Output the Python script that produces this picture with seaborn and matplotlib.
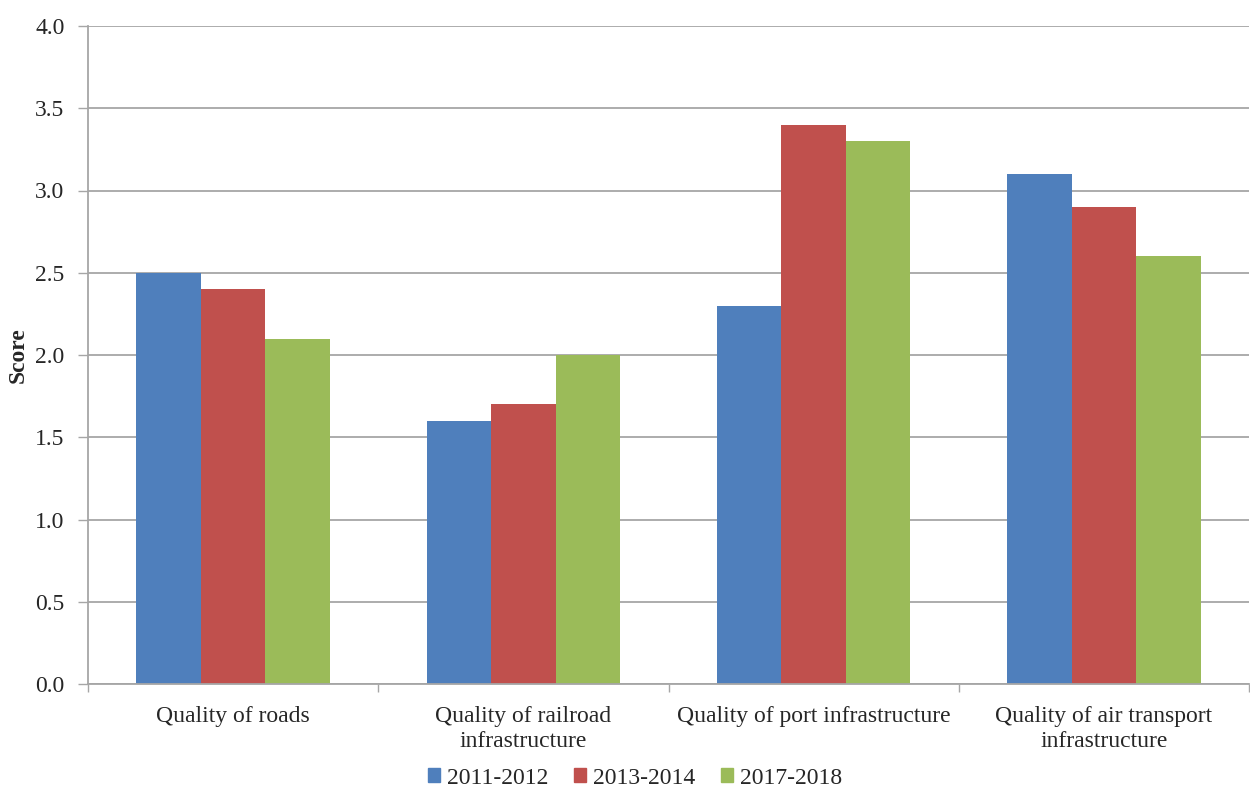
import matplotlib
matplotlib.use("Agg")
import matplotlib.pyplot as plt
import seaborn as sns
import pandas as pd
from matplotlib.ticker import FixedLocator

# Infrastructure quality scores by period
categories = ["Quality of roads", "Quality of railroad\ninfrastructure",
              "Quality of port infrastructure", "Quality of air transport\ninfrastructure"]
periods = ["2011-2012", "2013-2014", "2017-2018"]
scores_2011_2012 = [2.5, 1.6, 2.3, 3.1]
scores_2013_2014 = [2.4, 1.7, 3.4, 2.9]
scores_2017_2018 = [2.1, 2.0, 3.3, 2.6]
y_ticks = [0.0, 0.5, 1.0, 1.5, 2.0, 2.5, 3.0, 3.5, 4.0]
colors = ["#4F7FBC", "#C0504D", "#9BBB59"]

rows = []
for period, vals in zip(periods, [scores_2011_2012, scores_2013_2014, scores_2017_2018]):
    for cat, v in zip(categories, vals):
        rows.append({"category": cat, "period": period, "score": v})
df = pd.DataFrame(rows)

sns.set_theme(style="white")
plt.rcParams["font.family"] = ["Liberation Serif", "DejaVu Serif"]

fig = plt.figure(figsize=(12.5, 7.91), dpi=100)
ax_left, ax_bottom = 88 / 1250, 1 - 684 / 791
ax_w, ax_h = (1249 - 88) / 1250, (684 - 26) / 791
ax = fig.add_axes([ax_left, ax_bottom, ax_w, ax_h])

sns.barplot(data=df, x="category", y="score", hue="period", order=categories,
            hue_order=periods, palette=colors, width=0.667, saturation=1,
            edgecolor="none", linewidth=0, ax=ax, errorbar=None, legend=False)

grid_color = "#A6A6A6"
fs = 17

ax.set_ylim(0, 4.0)
ax.set_xlim(-0.5, 3.5)
ax.set_yticks(y_ticks)
ax.set_yticklabels([f"{v:.1f}" for v in y_ticks], fontsize=fs)
ax.yaxis.grid(True, color=grid_color, linewidth=1.3)
ax.set_axisbelow(True)

ax.set_xlabel("")
ax.set_ylabel("")
fig.text(18 / 1250, ax_bottom + ax_h / 2, "Score", rotation=90, ha="center",
         va="center", fontsize=fs, fontweight="bold")

ax.tick_params(axis="x", which="major", length=0, labelsize=fs, pad=16)
for lbl in ax.get_xticklabels():
    lbl.set_linespacing(1.25)
ax.xaxis.set_minor_locator(FixedLocator([-0.5, 0.5, 1.5, 2.5, 3.5]))
ax.tick_params(axis="x", which="minor", length=6, width=1, color=grid_color, bottom=True)
ax.tick_params(axis="y", length=7, width=1, color=grid_color, left=True, pad=10)

for side in ["top", "right"]:
    ax.spines[side].set_visible(False)
for side in ["left", "bottom"]:
    ax.spines[side].set_color(grid_color)
    ax.spines[side].set_linewidth(1.3)

handles = [plt.Rectangle((0, 0), 1, 1, color=c) for c in colors]
fig.legend(handles, periods, loc="center", bbox_to_anchor=(0.508, 1 - 778 / 791),
           ncol=3, frameon=False, fontsize=fs, handlelength=0.5, handleheight=0.5,
           handletextpad=0.3, columnspacing=1.1, borderaxespad=0, borderpad=0)

fig.savefig("out.png", dpi=100)
